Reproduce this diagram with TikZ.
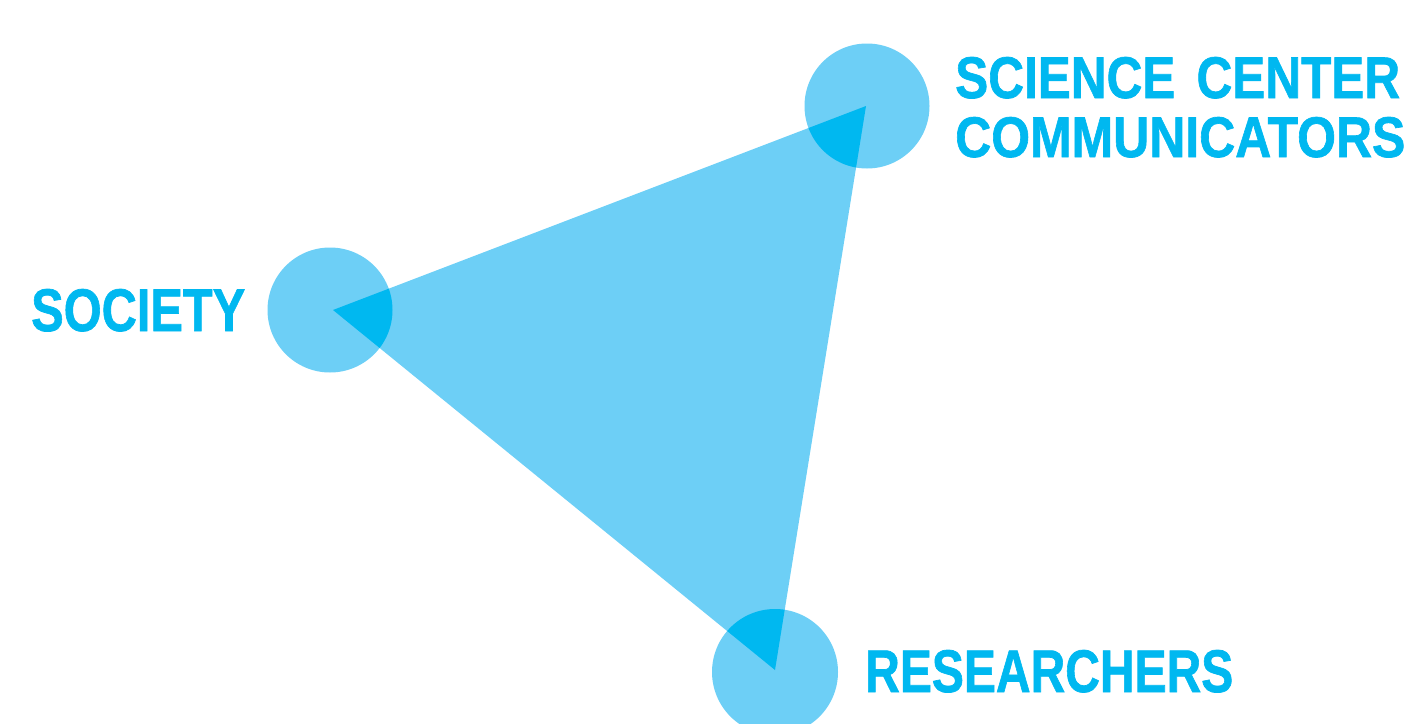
\documentclass[tikz,border=0pt]{standalone}
\usepackage{fontspec}
\setmainfont{Liberation Sans}
\newfontfamily\lblfont[FakeBold=1.2]{Liberation Sans Bold}
\usepackage{graphicx}
\definecolor{lightblue}{HTML}{6DCFF6}
\definecolor{darkblue}{HTML}{00B8F0}
\tikzset{
  blob/.style={fill=lightblue},
  lbl/.style={anchor=base west, inner sep=0pt, text=darkblue, font=\lblfont}
}
\begin{document}
\begin{tikzpicture}[x=1pt,y=-1pt]
\useasboundingbox (0,0) rectangle (1408,723);
\coordinate (s) at (330,310);
\coordinate (c) at (867,106);
\coordinate (r) at (775,672);
\coordinate (ts) at (333,310);
\coordinate (tc) at (866,106);
\coordinate (tr) at (775,670);
\begin{scope}
\clip (0,0) rectangle (1408,723);
\fill[blob] (s) circle[radius=62.5];
\fill[blob] (c) circle[radius=62.5];
\fill[blob] (r) circle[radius=63];
\fill[blob] (ts) -- (tc) -- (tr) -- cycle;
\clip (ts) -- (tc) -- (tr) -- cycle;
\fill[darkblue] (s) circle[radius=62.5];
\fill[darkblue] (c) circle[radius=62.5];
\fill[darkblue] (r) circle[radius=63];
\end{scope}
\node[lbl] (l1) at (955,98) {\resizebox{445pt}{41pt}{SCIENCE\kern0.15em\ CENTER}};
\node[lbl] (l2) at (955,157) {\resizebox{450pt}{40pt}{COMMUNICATORS}};
\node[lbl] (l3) at (31,331) {\resizebox{214pt}{42pt}{SOCIETY}};
\node[lbl] (l4) at (865,692) {\resizebox{368pt}{42pt}{RESEARCHERS}};
\end{tikzpicture}
\end{document}
